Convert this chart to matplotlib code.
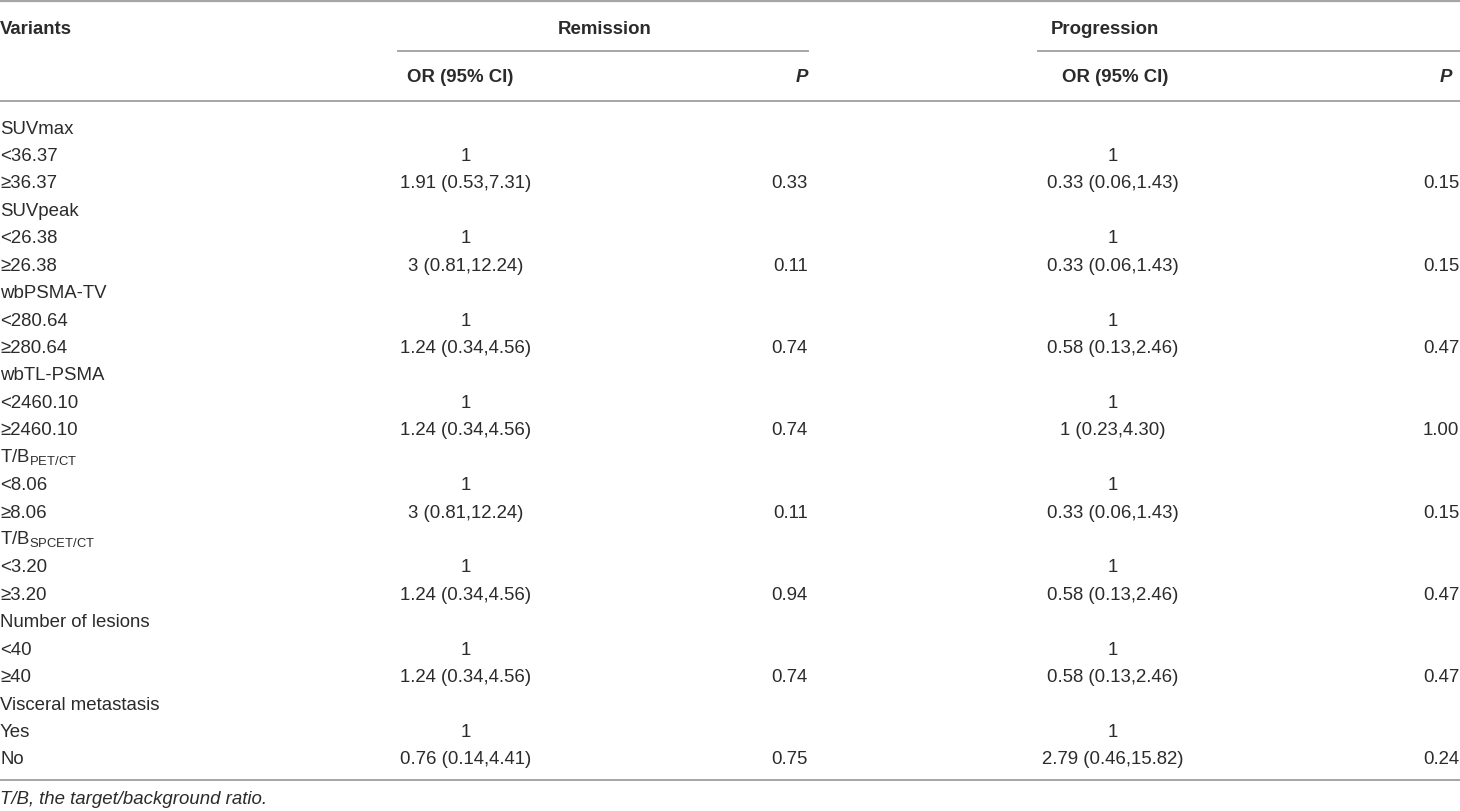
import matplotlib
matplotlib.use("Agg")
import matplotlib.pyplot as plt

# Table content
variants = ["SUVmax", "SUVpeak", "wbPSMA-TV", "wbTL-PSMA",
            r"T/B$_{\mathregular{PET/CT}}$", r"T/B$_{\mathregular{SPCET/CT}}$",
            "Number of lesions", "Visceral metastasis"]
levels = [["<36.37", "≥36.37"], ["<26.38", "≥26.38"], ["<280.64", "≥280.64"],
          ["<2460.10", "≥2460.10"], ["<8.06", "≥8.06"], ["<3.20", "≥3.20"],
          ["<40", "≥40"], ["Yes", "No"]]
rem_or = ["1.91 (0.53,7.31)", "3 (0.81,12.24)", "1.24 (0.34,4.56)", "1.24 (0.34,4.56)",
          "3 (0.81,12.24)", "1.24 (0.34,4.56)", "1.24 (0.34,4.56)", "0.76 (0.14,4.41)"]
rem_p = ["0.33", "0.11", "0.74", "0.74", "0.11", "0.94", "0.74", "0.75"]
prog_or = ["0.33 (0.06,1.43)", "0.33 (0.06,1.43)", "0.58 (0.13,2.46)", "1 (0.23,4.30)",
           "0.33 (0.06,1.43)", "0.58 (0.13,2.46)", "0.58 (0.13,2.46)", "2.79 (0.46,15.82)"]
prog_p = ["0.15", "0.15", "0.47", "1.00", "0.15", "0.47", "0.47", "0.24"]
footnote = "T/B, the target/background ratio."

W, H = 1460, 811
fig = plt.figure(figsize=(W / 100, H / 100), dpi=100)
ax = fig.add_axes([0, 0, 1, 1])
ax.set_xlim(0, W)
ax.set_ylim(H, 0)
ax.axis("off")

plt.rcParams["font.family"] = ["Liberation Sans", "DejaVu Sans"]
txt = "#2b2b2b"
fs = 13.4
line_c = "#a6a6a6"
base = 6.5  # offset from row centre to baseline

# column positions
x_var = 0
x_rem_or, x_rem_p = 466, 808
x_pro_or, x_pro_p = 1113, 1459

# horizontal rules
ax.plot([0, W], [1, 1], color=line_c, lw=1.6)
ax.plot([398, 808], [51, 51], color=line_c, lw=1.4)
ax.plot([1038, W], [51, 51], color=line_c, lw=1.4)
ax.plot([0, W], [101, 101], color=line_c, lw=1.4)
ax.plot([0, W], [780, 780], color=line_c, lw=1.4)


def cell(x, y, s, ha="left", **kw):
    ax.text(x, y + base, s, ha=ha, va="baseline", fontsize=fs, color=txt, **kw)


# header
cell(x_var, 27, "Variants", weight="bold")
cell(605, 27, "Remission", ha="center", weight="bold")
cell(1105, 27, "Progression", ha="center", weight="bold")
cell(x_rem_or - 6, 75, "OR (95% CI)", ha="center", weight="bold")
cell(x_rem_p, 75, "P", ha="right", weight="bold", style="italic")
cell(x_pro_or + 2, 75, "OR (95% CI)", ha="center", weight="bold")
cell(x_pro_p - 7, 75, "P", ha="right", weight="bold", style="italic")

# body
y0, dy = 127, 27.43
r = 0
for i, name in enumerate(variants):
    cell(x_var, y0 + r * dy, name)
    r += 1
    y = y0 + r * dy
    cell(x_var, y, levels[i][0])
    cell(x_rem_or, y, "1", ha="center")
    cell(x_pro_or, y, "1", ha="center")
    r += 1
    y = y0 + r * dy
    cell(x_var, y, levels[i][1])
    cell(x_rem_or, y, rem_or[i], ha="center")
    cell(x_rem_p, y, rem_p[i], ha="right")
    cell(x_pro_or, y, prog_or[i], ha="center")
    cell(x_pro_p, y, prog_p[i], ha="right")
    r += 1

cell(x_var, 798, footnote, style="italic")

fig.savefig("out.png", dpi=100)
